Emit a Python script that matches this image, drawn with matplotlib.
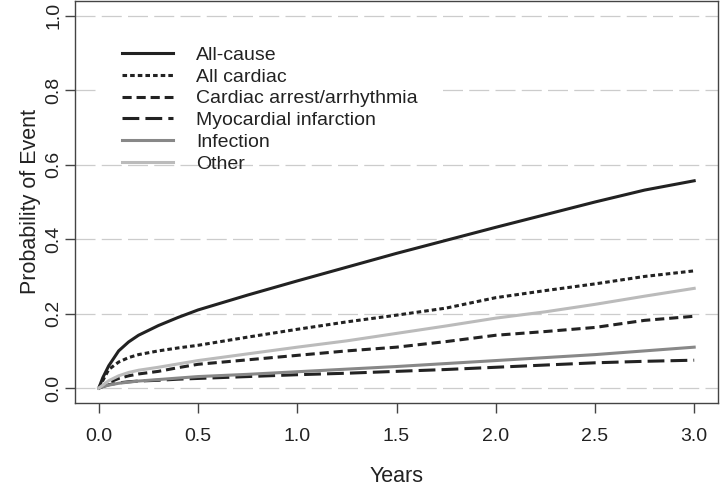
import matplotlib
matplotlib.use("Agg")
import matplotlib.pyplot as plt
from matplotlib.patches import Rectangle

years = [0, 0.02, 0.05, 0.1, 0.15, 0.2, 0.3, 0.4, 0.5, 0.75, 1.0, 1.25, 1.5, 1.75, 2.0, 2.25, 2.5, 2.75, 3.0]

all_cause = [0, 0.028, 0.06, 0.1, 0.124, 0.142, 0.168, 0.19, 0.21, 0.25, 0.288, 0.325, 0.362, 0.397, 0.432, 0.466, 0.50, 0.532, 0.557]
all_cardiac = [0, 0.02, 0.05, 0.07, 0.082, 0.09, 0.1, 0.108, 0.115, 0.137, 0.158, 0.178, 0.196, 0.215, 0.243, 0.262, 0.28, 0.30, 0.315]
arrest = [0, 0.006, 0.015, 0.026, 0.033, 0.038, 0.045, 0.055, 0.064, 0.076, 0.088, 0.1, 0.11, 0.125, 0.142, 0.152, 0.163, 0.182, 0.193]
mi = [0, 0.004, 0.009, 0.014, 0.017, 0.019, 0.021, 0.024, 0.026, 0.031, 0.036, 0.04, 0.045, 0.05, 0.056, 0.062, 0.068, 0.072, 0.075]
infection = [0, 0.004, 0.008, 0.013, 0.016, 0.019, 0.023, 0.027, 0.031, 0.037, 0.044, 0.051, 0.058, 0.066, 0.074, 0.082, 0.09, 0.1, 0.11]
other = [0, 0.008, 0.02, 0.033, 0.042, 0.048, 0.056, 0.065, 0.074, 0.092, 0.11, 0.127, 0.147, 0.167, 0.188, 0.205, 0.225, 0.247, 0.268]

labels = ["All-cause", "All cardiac", "Cardiac arrest/arrhythmia",
          "Myocardial infarction", "Infection", "Other"]
x_ticks = [0, 0.5, 1.0, 1.5, 2.0, 2.5, 3.0]
y_ticks = [0, 0.2, 0.4, 0.6, 0.8, 1.0]

plt.rcParams['font.family'] = ['Liberation Sans', 'DejaVu Sans']

fig = plt.figure(figsize=(7.2, 4.88), dpi=100)
ax = fig.add_axes([75 / 720, 85 / 488, 643 / 720, 402 / 488])

dark = "#222222"
styles = [
    dict(color=dark, ls="-"),
    dict(color=dark, ls=(0, (1.5, 1.0))),
    dict(color=dark, ls=(0, (3.0, 1.6))),
    dict(color=dark, ls=(0, (5.5, 2.0))),
    dict(color="#888888", ls="-"),
    dict(color="#bbbbbb", ls="-"),
]
series = [all_cause, all_cardiac, arrest, mi, infection, other]

for s, lab, st in zip(series, labels, styles):
    ax.plot(years, s, lw=2.2, label=lab, zorder=3, **st)

ax.set_xlim(-0.12, 3.12)
ax.set_ylim(-0.04, 1.04)
ax.set_xticks(x_ticks)
ax.set_yticks(y_ticks)
ax.set_xticklabels([f"{v:.1f}" for v in x_ticks])
ax.set_yticklabels([f"{v:.1f}" for v in y_ticks], rotation=90, va="center")

ax.yaxis.grid(True, color="#cccccc", lw=0.9, ls=(0, (16, 5)), zorder=1)
ax.set_axisbelow(True)

for sp in ax.spines.values():
    sp.set_color("#444444")
    sp.set_linewidth(1.0)
ax.tick_params(direction="out", length=7, width=1.0, color="#444444",
               labelsize=14, labelcolor="#222222")
ax.tick_params(axis="x", pad=11)
ax.tick_params(axis="y", pad=2)

ax.set_xlabel("Years", fontsize=15.5, color="#222222")
ax.set_ylabel("Probability of Event", fontsize=15.5, color="#222222")
ax.xaxis.label.set_va("center")
ax.yaxis.label.set_va("center")
ax.xaxis.set_label_coords(0.5, -(476 - 403) / 402)
ax.yaxis.set_label_coords((31 - 75) / 643, 0.5)

# white box behind the legend hides the gridline underneath
ax.add_patch(Rectangle((25 / 643, (403 - 152) / 402), 337 / 643, 119 / 402,
                       transform=ax.transAxes, facecolor="white",
                       edgecolor="none", zorder=2))

ax.legend(loc="upper left", bbox_to_anchor=(47 / 643, (403 - 46) / 402),
          frameon=False, fontsize=14, handlelength=2.6, handletextpad=1.2,
          labelspacing=0.22, borderpad=0, borderaxespad=0,
          labelcolor="#222222")

fig.savefig("out.png", dpi=100)
